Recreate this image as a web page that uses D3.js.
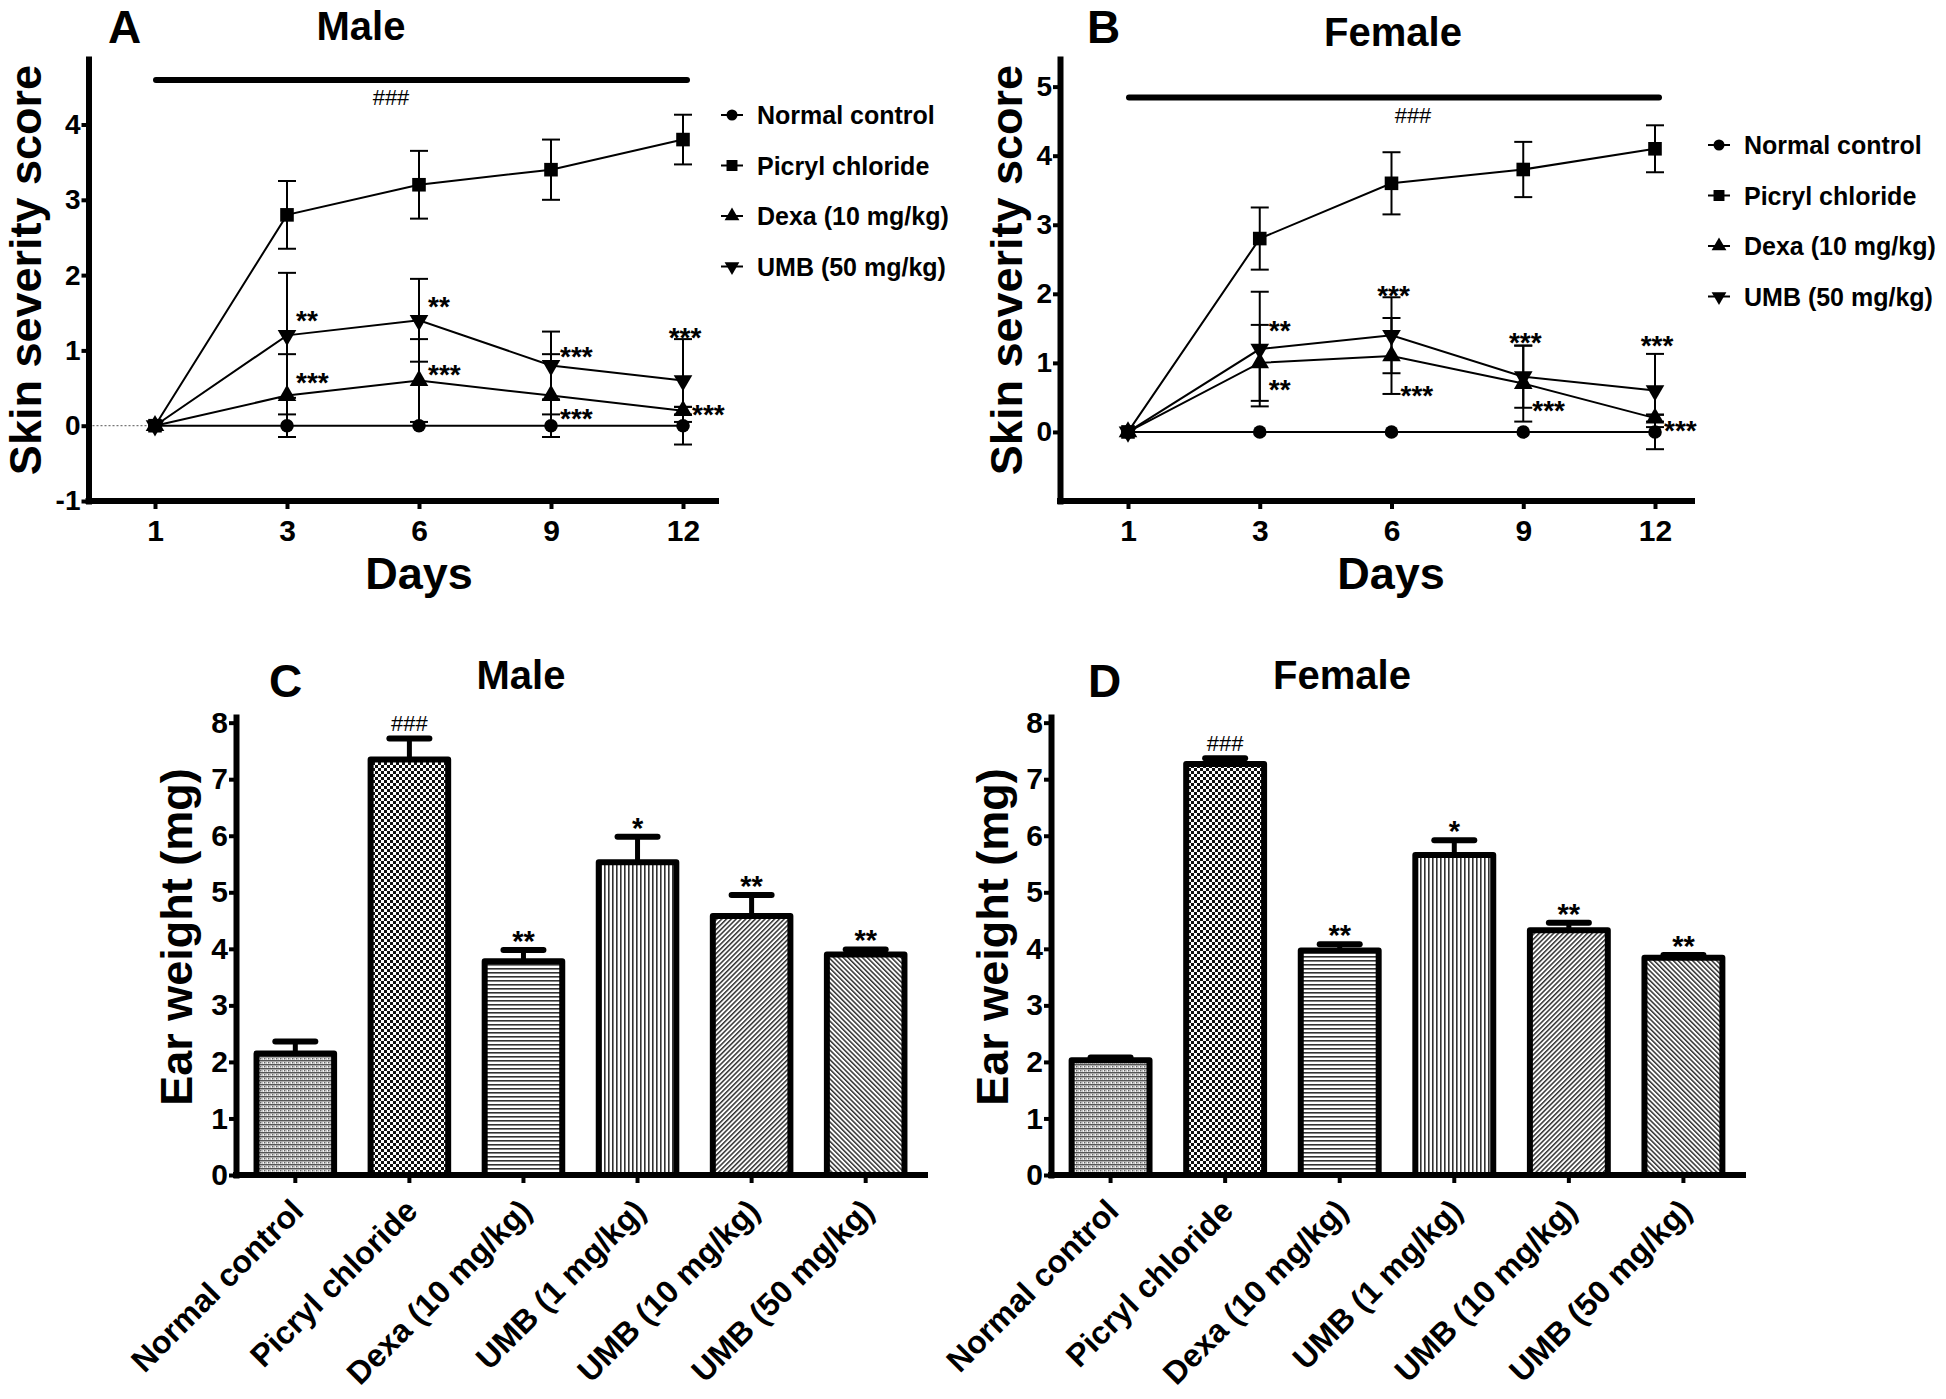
<!DOCTYPE html>
<html><head><meta charset="utf-8">
<script src="https://cdn.jsdelivr.net/npm/d3@7"></script>
<style>body{margin:0;background:#fff}svg{display:block}</style>
</head><body><svg id="c" width="1946" height="1399"></svg>
<script>
// ---------------- DATA ----------------
const days = [1, 3, 6, 9, 12];
const lineSeriesNames = ["Normal control", "Picryl chloride", "Dexa (10 mg/kg)", "UMB (50 mg/kg)"];
const lineSymbols = ["circle", "square", "triangle", "triangleDown"];

const maleNormal = [0, 0, 0, 0, 0];
const maleNormalErr = [0, 0.15, 0, 0.15, 0.25];
const malePicryl = [0, 2.8, 3.2, 3.4, 3.8];
const malePicrylErr = [0, 0.45, 0.45, 0.4, 0.33];
const maleDexa = [0, 0.4, 0.6, 0.4, 0.2];
const maleDexaErr = [0, 0.55, 0.55, 0.55, 0.05];
const maleUMB = [0, 1.2, 1.4, 0.8, 0.6];
const maleUMBErr = [0, 0.83, 0.55, 0.45, 0.55];

const femaleNormal = [0, 0, 0, 0, 0];
const femaleNormalErr = [0, 0, 0, 0, 0.25];
const femalePicryl = [0, 2.8, 3.6, 3.8, 4.1];
const femalePicrylErr = [0, 0.45, 0.45, 0.4, 0.34];
const femaleDexa = [0, 1.0, 1.1, 0.7, 0.2];
const femaleDexaErr = [0, 0.55, 0.55, 0.55, 0.05];
const femaleUMB = [0, 1.2, 1.4, 0.8, 0.6];
const femaleUMBErr = [0, 0.83, 0.55, 0.45, 0.53];

const yTicksLineMale = [-1, 0, 1, 2, 3, 4];
const yTicksLineFemale = [0, 1, 2, 3, 4, 5];

const maleLineStars = [
  {day: 3, v: 1.49, t: "**", side: "r"},
  {day: 6, v: 1.67, t: "**", side: "r"},
  {day: 9, v: 1.0, t: "***", side: "r"},
  {day: 12, v: 1.26, t: "***", side: "a"},
  {day: 3, v: 0.66, t: "***", side: "r"},
  {day: 6, v: 0.77, t: "***", side: "r"},
  {day: 9, v: 0.18, t: "***", side: "r"},
  {day: 12, v: 0.23, t: "***", side: "r"}
];
const femaleLineStars = [
  {day: 3, v: 1.56, t: "**", side: "r"},
  {day: 3, v: 0.71, t: "**", side: "r"},
  {day: 6, v: 2.07, t: "***", side: "a"},
  {day: 6, v: 0.62, t: "***", side: "r"},
  {day: 9, v: 1.39, t: "***", side: "a"},
  {day: 9, v: 0.40, t: "***", side: "r"},
  {day: 12, v: 1.35, t: "***", side: "a"},
  {day: 12, v: 0.12, t: "***", side: "r"}
];

const barGroups = ["Normal control", "Picryl chloride", "Dexa (10 mg/kg)", "UMB (1 mg/kg)", "UMB (10 mg/kg)", "UMB (50 mg/kg)"];
const maleEar = [2.15, 7.35, 3.78, 5.53, 4.58, 3.90];
const maleEarErr = [0.21, 0.37, 0.20, 0.45, 0.37, 0.09];
const femaleEar = [2.03, 7.27, 3.97, 5.66, 4.33, 3.84];
const femaleEarErr = [0.05, 0.10, 0.11, 0.26, 0.13, 0.05];
const earSig = ["", "###", "**", "*", "**", "**"];
const yTicksBar = [0, 1, 2, 3, 4, 5, 6, 7, 8];
const barPatterns = ["pNormal", "pPicryl", "pHoriz", "pVert", "pDiagR", "pDiagL"];

// ---------------- DRAW ----------------
const FONT = '"Liberation Sans", Arial, Helvetica, sans-serif';
const svg = d3.select("#c");
svg.append("rect").attr("width", 1946).attr("height", 1399).attr("fill", "#fff");

// patterns
const defs = svg.append("defs");
function pat(id, w, h, build, transform) {
  const p = defs.append("pattern").attr("id", id).attr("patternUnits", "userSpaceOnUse")
    .attr("width", w).attr("height", h);
  if (transform) p.attr("patternTransform", transform);
  p.append("rect").attr("width", w).attr("height", h).attr("fill", "#fff");
  build(p);
}
pat("pNormal", 4, 4, p => {
  p.append("rect").attr("x", 0).attr("y", 0).attr("width", 4).attr("height", 1.5).attr("fill", "#555");
  p.append("rect").attr("x", 0).attr("y", 2).attr("width", 1.5).attr("height", 1.5).attr("fill", "#666");
  p.append("rect").attr("x", 2).attr("y", 2.5).attr("width", 1.2).attr("height", 1).attr("fill", "#888");
});
pat("pPicryl", 6, 6, p => {
  p.append("rect").attr("x", 0).attr("y", 0).attr("width", 3).attr("height", 3).attr("fill", "#111");
  p.append("rect").attr("x", 3).attr("y", 3).attr("width", 3).attr("height", 3).attr("fill", "#111");
});
pat("pHoriz", 4, 4, p => {
  p.append("rect").attr("x", 0).attr("y", 0).attr("width", 4).attr("height", 1.6).attr("fill", "#333");
});
pat("pVert", 4, 4, p => {
  p.append("rect").attr("x", 0).attr("y", 0).attr("width", 1.6).attr("height", 4).attr("fill", "#333");
});
pat("pDiagR", 3.4, 3.4, p => {
  p.append("rect").attr("x", 0).attr("y", 0).attr("width", 1.5).attr("height", 3.4).attr("fill", "#333");
}, "rotate(45)");
pat("pDiagL", 3.4, 3.4, p => {
  p.append("rect").attr("x", 0).attr("y", 0).attr("width", 1.5).attr("height", 3.4).attr("fill", "#333");
}, "rotate(-45)");

function txt(g, x, y, s, size, opts = {}) {
  const t = g.append("text").attr("x", x).attr("y", y).text(s)
    .attr("font-family", FONT).attr("font-size", size)
    .attr("font-weight", opts.weight || "bold").attr("fill", "#000")
    .attr("text-anchor", opts.anchor || "start");
  if (opts.transform) t.attr("transform", opts.transform);
  return t;
}

function symbolPath(kind, size) {
  if (kind === "circle") return d3.symbol(d3.symbolCircle, size)();
  if (kind === "square") return d3.symbol(d3.symbolSquare, size)();
  return d3.symbol(d3.symbolTriangle, size)();
}
function drawSymbol(g, kind, cx, cy, size) {
  g.append("path").attr("d", symbolPath(kind, size))
    .attr("transform", `translate(${cx},${cy})` + (kind === "triangleDown" ? " rotate(180)" : ""))
    .attr("fill", "#000");
}

function styleAxis(a, tickFont) {
  a.attr("font-family", FONT).attr("font-size", tickFont).attr("font-weight", "bold");
  a.selectAll(".tick line").attr("stroke", "#000").attr("stroke-width", 4);
  a.selectAll(".tick text").attr("fill", "#000");
  a.select(".domain").attr("stroke", "#000").attr("stroke-width", 6).attr("stroke-linecap", "square");
}

function drawLinePanel(c) {
  const g = svg.append("g");
  const x = d3.scalePoint().domain(days).range(c.xRange);
  const y = d3.scaleLinear().domain(c.yDomain).range([501, 59]);
  const baseY = y(c.yDomain[0]);

  if (c.zeroLine) {
    g.append("line").attr("x1", c.yAxisX).attr("x2", x(days[0])).attr("y1", y(0)).attr("y2", y(0))
      .attr("stroke", "#777").attr("stroke-width", 1.2).attr("stroke-dasharray", "2,2");
  }

  c.series.forEach((s, si) => {
    const pts = days.map((d, i) => ({day: d, v: s.vals[i], e: s.errs[i]}));
    pts.forEach(p => {
      if (p.e <= 0) return;
      const cx = x(p.day), y1 = y(p.v - p.e), y2 = y(p.v + p.e);
      g.append("line").attr("x1", cx).attr("x2", cx).attr("y1", y1).attr("y2", y2)
        .attr("stroke", "#000").attr("stroke-width", 2);
      [y1, y2].forEach(yy => g.append("line").attr("x1", cx - 9).attr("x2", cx + 9).attr("y1", yy).attr("y2", yy)
        .attr("stroke", "#000").attr("stroke-width", 2));
    });
    g.append("path").datum(pts)
      .attr("d", d3.line().x(d => x(d.day)).y(d => y(d.v)))
      .attr("fill", "none").attr("stroke", "#000").attr("stroke-width", 2);
  });
  c.series.forEach((s, si) => {
    days.forEach((d, i) => drawSymbol(g, lineSymbols[si], x(d), y(s.vals[i]),
      lineSymbols[si] === "square" ? 185 : (lineSymbols[si] === "circle" ? 145 : 150)));
  });

  const ya = g.append("g").attr("transform", `translate(${c.yAxisX},0)`)
    .call(d3.axisLeft(y).tickValues(c.yTicks).tickSize(7).tickSizeOuter(0).tickPadding(1).tickFormat(d => String(d)));
  styleAxis(ya, 28);
  const xa = g.append("g").attr("transform", `translate(0,${baseY})`)
    .call(d3.axisBottom(x).tickSize(8).tickSizeOuter(0).tickPadding(11).tickFormat(d => String(d)));
  styleAxis(xa, 30);
  xa.select(".domain").attr("d", `M${c.yAxisX},0H${c.xEnd}`);

  g.append("line").attr("x1", x(days[0]) + 1).attr("x2", x(days[days.length - 1]) + 4)
    .attr("y1", c.sigY).attr("y2", c.sigY).attr("stroke", "#000").attr("stroke-width", 6).attr("stroke-linecap", "round");
  txt(g, c.hashX, c.sigY + 25, "###", 22, {anchor: "middle", weight: "normal"});

  c.stars.forEach(s => {
    const sx = s.side === "r" ? x(s.day) + 9 : x(s.day) + 2;
    txt(g, sx, y(s.v) + 16, s.t, 28, {anchor: s.side === "r" ? "start" : "middle"});
  });

  lineSeriesNames.forEach((n, i) => {
    const ly = c.legendY + i * 50.5;
    g.append("line").attr("x1", c.legendX - 11).attr("x2", c.legendX + 11).attr("y1", ly).attr("y2", ly)
      .attr("stroke", "#000").attr("stroke-width", 2);
    drawSymbol(g, lineSymbols[i], c.legendX, ly, lineSymbols[i] === "square" ? 120 : 95);
    txt(g, c.legendX + 25, ly + 9, n, 25);
  });

  txt(g, c.letterX, 43, c.letter, 46);
  txt(g, c.titleX, c.titleY, c.title, 40, {anchor: "middle"});
  txt(g, c.yLabelX, 270, "Skin severity score", 45, {anchor: "middle", transform: `rotate(-90,${c.yLabelX},270)`});
  txt(g, c.daysX, 589, "Days", 45, {anchor: "middle"});
}

drawLinePanel({
  xRange: [155, 683], xEnd: 716, yAxisX: 88.5, yDomain: [-1, 4.87], yTicks: yTicksLineMale,
  series: [
    {vals: maleNormal, errs: maleNormalErr}, {vals: malePicryl, errs: malePicrylErr},
    {vals: maleDexa, errs: maleDexaErr}, {vals: maleUMB, errs: maleUMBErr}
  ],
  stars: maleLineStars, zeroLine: true, sigY: 80, hashX: 391,
  legendX: 732, legendY: 115,
  letter: "A", letterX: 108, title: "Male", titleX: 361, titleY: 40, yLabelX: 41, daysX: 419
});
drawLinePanel({
  xRange: [1128, 1655], xEnd: 1692, yAxisX: 1060, yDomain: [-1, 5.4], yTicks: yTicksLineFemale,
  series: [
    {vals: femaleNormal, errs: femaleNormalErr}, {vals: femalePicryl, errs: femalePicrylErr},
    {vals: femaleDexa, errs: femaleDexaErr}, {vals: femaleUMB, errs: femaleUMBErr}
  ],
  stars: femaleLineStars, zeroLine: false, sigY: 97.6, hashX: 1413,
  legendX: 1719, legendY: 145,
  letter: "B", letterX: 1087, title: "Female", titleX: 1393, titleY: 46, yLabelX: 1022, daysX: 1391
});

function drawBarPanel(c) {
  const g = svg.append("g");
  const x = d3.scaleBand().domain(barGroups).range([c.yAxisX, c.xEnd]).paddingInner(0.32).paddingOuter(0.18);
  const y = d3.scaleLinear().domain([0, 8.1]).range([1175, 717]);
  const bw = x.bandwidth();

  barGroups.forEach((name, i) => {
    const v = c.vals[i], e = c.errs[i];
    const bx = x(name), cx = bx + bw / 2;
    const capY = y(v + e);
    g.append("line").attr("x1", cx).attr("x2", cx).attr("y1", y(v)).attr("y2", capY)
      .attr("stroke", "#000").attr("stroke-width", 5);
    g.append("line").attr("x1", cx - 20).attr("x2", cx + 20).attr("y1", capY).attr("y2", capY)
      .attr("stroke", "#000").attr("stroke-width", 6).attr("stroke-linecap", "round");
    g.append("rect").attr("x", bx).attr("y", y(v)).attr("width", bw).attr("height", y(0) - y(v))
      .attr("fill", `url(#${barPatterns[i]})`).attr("stroke", "#000").attr("stroke-width", 6)
      .attr("stroke-linejoin", "round");
    const s = c.sig[i];
    if (s === "###") txt(g, cx, capY - 7, s, 22, {anchor: "middle", weight: "normal"});
    else if (s) txt(g, cx, capY + 1, s, 29, {anchor: "middle"});
  });

  const ya = g.append("g").attr("transform", `translate(${c.yAxisX},0)`)
    .call(d3.axisLeft(y).tickValues(yTicksBar).tickSize(7).tickSizeOuter(0).tickPadding(1).tickFormat(d => String(d)));
  styleAxis(ya, 30);
  const xa = g.append("g").attr("transform", `translate(0,${y(0)})`)
    .call(d3.axisBottom(x).tickSize(8).tickSizeOuter(0));
  styleAxis(xa, 32);
  xa.select(".domain").attr("d", `M${c.yAxisX},0H${c.xEnd}`);
  xa.selectAll(".tick text").attr("x", 0).attr("y", 0).attr("dy", 0)
    .attr("text-anchor", "end").attr("transform", "translate(10,38) rotate(-45)");

  txt(g, c.letterX, 697, c.letter, 46);
  txt(g, c.titleX, 689, c.title, 40, {anchor: "middle"});
  txt(g, c.yLabelX, 937, "Ear weight (mg)", 45, {anchor: "middle", transform: `rotate(-90,${c.yLabelX},937)`});
}

drawBarPanel({yAxisX: 236, xEnd: 925, vals: maleEar, errs: maleEarErr, sig: earSig,
  letter: "C", letterX: 269, title: "Male", titleX: 521, yLabelX: 192});
drawBarPanel({yAxisX: 1051, xEnd: 1743, vals: femaleEar, errs: femaleEarErr, sig: earSig,
  letter: "D", letterX: 1088, title: "Female", titleX: 1342, yLabelX: 1008});
</script>
</body></html>
